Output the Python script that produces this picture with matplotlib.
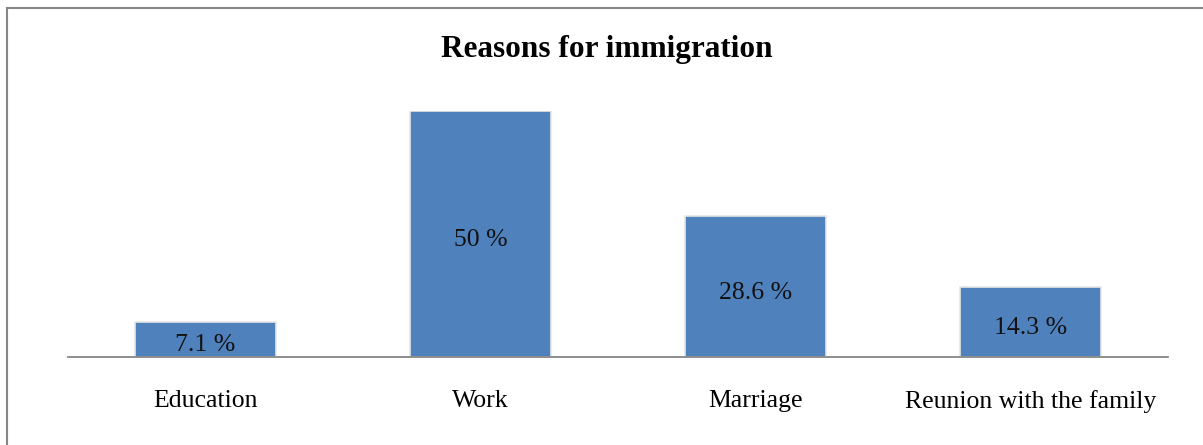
import matplotlib
matplotlib.use("Agg")
import matplotlib.pyplot as plt
from matplotlib.patches import Rectangle

categorias = ["Education", "Work", "Marriage", "Reunion with the family"]
valores = [7.1, 50, 28.6, 14.3]
etiquetas = ["7.1 %", "50 %", "28.6 %", "14.3 %"]

W, H = 1203, 445
fig = plt.figure(figsize=(W / 100, H / 100), dpi=100)
plt.rcParams['font.family'] = ['Liberation Serif', 'DejaVu Serif']

# axes: baseline at y=357 px, 50 % reaches y=111 px
ax = fig.add_axes([68 / W, 1 - 357 / H, 1100 / W, (357 - 111) / H])
x = range(len(categorias))
ax.bar(x, valores, width=0.51, color="#4F81BD", edgecolor="#e6e6e6", linewidth=1.2)
ax.set_xlim(-0.5, len(categorias) - 0.5)
ax.set_ylim(0, 50)

for xi, v, t in zip(x, valores, etiquetas):
    ax.text(xi, v / 2 - 1.2, t, ha="center", va="center", fontsize=18.5, color="#111111")

for s in ["top", "right", "left"]:
    ax.spines[s].set_visible(False)
ax.spines["bottom"].set_color("#868686")
ax.spines["bottom"].set_linewidth(1.3)
ax.set_yticks([])
ax.set_xticks(list(x))
ax.set_xticklabels(categorias, fontsize=18.5)
ax.tick_params(axis="x", length=0, pad=24)

fig.text(607 / W, 1 - 49 / H, "Reasons for immigration", ha="center", va="center",
         fontsize=22.5, fontweight="bold")

# outer chart border
fig.patches.append(Rectangle((7 / W, -0.1), 1.2, 1 - 8 / H + 0.1, transform=fig.transFigure,
                             fill=False, edgecolor="#868686", linewidth=1.5))

fig.savefig("out.png", dpi=100)
